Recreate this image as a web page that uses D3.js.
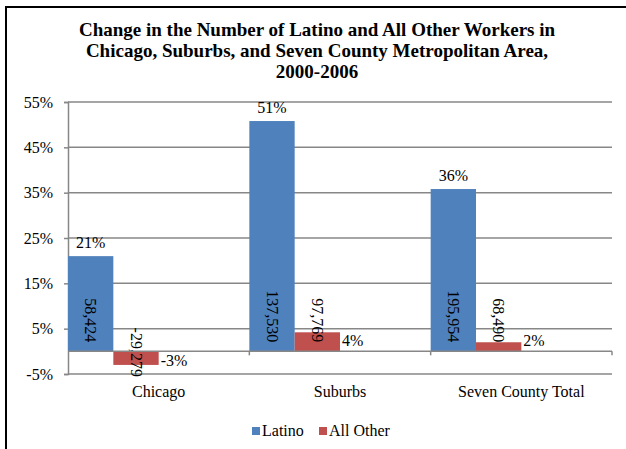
<!DOCTYPE html>
<meta charset="utf-8">
<title>latino-workers</title>
<style>
  body { margin: 0; background: #fff; }
  text { font-family: "Liberation Serif", "Times New Roman", serif; fill: #000; }
</style>
<body>
<script src="https://cdn.jsdelivr.net/npm/d3@7"></script>
<script>
var categories = ["Chicago", "Suburbs", "Seven County Total"];
var series = ["Latino", "All Other"];
var latinoPct = [21.0, 50.8, 35.8];
var otherPct = [-3.0, 4.2, 2.0];
var latinoCount = [58424, 137530, 195954];
var otherCount = [-29279, 97769, 68490];
var yTicks = [-5, 5, 15, 25, 35, 45, 55];
var colors = ["#4f81bd", "#c0504d"];

var width = 626, height = 449;
var serif = '"Liberation Serif", "Times New Roman", serif';
var svg = d3.select('body').append('svg')
    .attr('width', width)
    .attr('height', height);

// frame runs off the right and bottom edges of the picture
svg.append('rect')
    .attr('x', 6).attr('y', 7)
    .attr('width', 640).attr('height', 460)
    .attr('fill', 'none')
    .attr('stroke', '#000')
    .attr('stroke-width', 2);

var title = ["Change in the Number of Latino and All Other Workers in",
             "Chicago, Suburbs, and Seven County Metropolitan Area,",
             "2000-2006"];
svg.append('g').selectAll('text')
    .data(title)
  .enter().append('text')
    .attr('x', 317)
    .attr('y', function(d, i) { return 36 + i * 21; })
    .attr('text-anchor', 'middle')
    .attr('font-family', serif)
    .attr('font-size', 19)
    .attr('font-weight', 'bold')
    .text(function(d) { return d; });

var y = d3.scaleLinear().domain([-5, 55]).range([374, 102]);
var x0 = d3.scaleBand().domain(categories).range([68, 612]);
// bars sit in the left half of each category slot
var x1 = d3.scaleBand().domain(series).range([0, x0.bandwidth() / 2]);

var rows = categories.map(function(c, i) {
  return {cat: c, vals: [
    {s: series[0], pct: latinoPct[i], n: latinoCount[i]},
    {s: series[1], pct: otherPct[i], n: otherCount[i]}
  ]};
});

// gridlines
svg.append('g').selectAll('line')
    .data(yTicks)
  .enter().append('line')
    .attr('x1', 68).attr('x2', 612)
    .attr('y1', function(d) { return y(d); })
    .attr('y2', function(d) { return y(d); })
    .attr('stroke', '#878787')
    .attr('stroke-width', 1.5);

var yAxis = d3.axisLeft(y)
    .tickValues(yTicks)
    .tickSize(4)
    .tickPadding(11)
    .tickFormat(function(d) { return d + '%'; });
var gy = svg.append('g')
    .attr('transform', 'translate(68,0)')
    .call(yAxis)
    .attr('font-family', serif)
    .attr('font-size', 16);
gy.selectAll('path, line').attr('stroke', '#878787').attr('stroke-width', 1.5);
gy.selectAll('text').attr('fill', '#000');

// bars
var groups = svg.append('g').selectAll('g')
    .data(rows)
  .enter().append('g')
    .attr('transform', function(d) { return 'translate(' + x0(d.cat) + ',0)'; });

groups.selectAll('rect')
    .data(function(d) { return d.vals; })
  .enter().append('rect')
    .attr('x', function(d) { return x1(d.s); })
    .attr('width', x1.bandwidth())
    .attr('y', function(d) { return y(Math.max(0, d.pct)); })
    .attr('height', function(d) { return Math.abs(y(d.pct) - y(0)); })
    .attr('fill', function(d, i) { return colors[i]; });

// zero line with category ticks
svg.append('line')
    .attr('x1', 68).attr('x2', 612)
    .attr('y1', y(0)).attr('y2', y(0))
    .attr('stroke', '#878787').attr('stroke-width', 1.5);
svg.append('g').selectAll('line')
    .data(categories.slice(1).map(function(c) { return x0(c); }).concat([612]))
  .enter().append('line')
    .attr('x1', function(d) { return d; }).attr('x2', function(d) { return d; })
    .attr('y1', y(0)).attr('y2', y(0) + 4)
    .attr('stroke', '#878787').attr('stroke-width', 1.5);

// category labels
svg.append('g').selectAll('text')
    .data(categories)
  .enter().append('text')
    .attr('x', function(d) { return x0(d) + x0.bandwidth() / 2; })
    .attr('y', 397)
    .attr('text-anchor', 'middle')
    .attr('font-family', serif)
    .attr('font-size', 16)
    .text(function(d) { return d; });

// plain hyphen for negatives, as in the original
var fmtPct = function(v) { return Math.round(v) + '%'; };
var fmtN = function(v) { return d3.format(',')(v).replace('\u2212', '-'); };

// percent labels
groups.selectAll('text.pct')
    .data(function(d) { return d.vals; })
  .enter().append('text')
    .attr('class', 'pct')
    .attr('font-family', serif)
    .attr('font-size', 16)
    .attr('text-anchor', function(d, i) { return i === 0 ? 'middle' : 'start'; })
    .attr('x', function(d, i) {
      return i === 0 ? x1(d.s) + x1.bandwidth() / 2 : x1(d.s) + x1.bandwidth() + 2;
    })
    .attr('y', function(d, i) {
      if (i === 0) return y(d.pct) - 8;
      return d.pct < 0 ? y(d.pct) + 1 : y(0) - 5;
    })
    .text(function(d) { return fmtPct(d.pct); });

// worker counts, turned on their side
groups.selectAll('text.count')
    .data(function(d) { return d.vals; })
  .enter().append('text')
    .attr('class', 'count')
    .attr('font-family', serif)
    .attr('font-size', 16)
    .attr('text-anchor', 'end')
    .attr('dominant-baseline', 'central')
    .attr('transform', function(d) {
      var cx = x1(d.s) + x1.bandwidth() / 2;
      var cy = d.n < 0 ? y(d.pct) + 12 : y(0) - 9;
      return 'translate(' + cx + ',' + cy + ') rotate(90)';
    })
    .text(function(d) { return fmtN(d.n); });

// legend
var legend = svg.append('g').selectAll('g')
    .data(series)
  .enter().append('g')
    .attr('transform', function(d, i) { return 'translate(' + [252, 319][i] + ',0)'; });
legend.append('rect')
    .attr('y', 427).attr('width', 8).attr('height', 8)
    .attr('fill', function(d, i) { return colors[i]; });
legend.append('text')
    .attr('x', 10).attr('y', 436)
    .attr('font-family', serif)
    .attr('font-size', 16)
    .text(function(d) { return d; });
</script>
